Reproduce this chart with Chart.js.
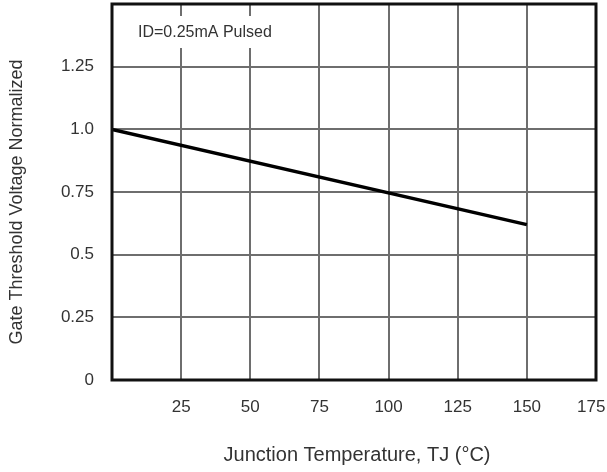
<!DOCTYPE html>
<html>
<head>
<meta charset="utf-8">
<script src="https://cdn.jsdelivr.net/npm/chart.js@4"></script>
<style>
html,body{margin:0;padding:0;background:#fff;}
#wrap{width:607px;height:472px;position:relative;}
</style>
</head>
<body>
<div id="wrap"><canvas id="c" width="607" height="472"></canvas></div>
<script>
// Data
const tempC = [0, 150];
const vthNorm = [1.0, 0.62];
const xTickValues = [0, 25, 50, 75, 100, 125, 150, 175];
const xTickLabels = ['', '25', '50', '75', '100', '125', '150', '175'];
const yTickValues = [0, 0.25, 0.5, 0.75, 1.0, 1.25, 1.5];
const yTickLabels = ['0', '0.25', '0.5', '0.75', '1.0', '1.25', ''];
const xTitle = 'Junction Temperature, TJ (°C)';
const yTitle = 'Gate Threshold Voltage Normalized';
const noteText = 'ID=0.25mA Pulsed';

const FONT = '"Liberation Sans", Arial, sans-serif';
const TXT = '#333333';

const points = tempC.map((t, i) => ({x: t, y: vthNorm[i]}));

const framePlugin = {
  id: 'frame',
  afterDatasetsDraw(chart) {
    const {ctx, chartArea: a} = chart;
    ctx.save();
    // note box
    ctx.font = '16px ' + FONT;
    const w = ctx.measureText(noteText).width;
    ctx.fillStyle = '#ffffff';
    ctx.fillRect(a.left + 18, a.top + 12, w + 16, 32);
    ctx.fillStyle = TXT;
    ctx.textBaseline = 'middle';
    ctx.textAlign = 'left';
    ctx.fillText(noteText, a.left + 26, a.top + 29);
    // frame
    ctx.strokeStyle = '#111111';
    ctx.lineWidth = 3;
    ctx.strokeRect(a.left, a.top, a.right - a.left, a.bottom - a.top);
    // axis titles
    ctx.fillStyle = TXT;
    ctx.textAlign = 'center';
    ctx.textBaseline = 'middle';
    ctx.font = '20px ' + FONT;
    ctx.fillText(xTitle, (a.left + a.right) / 2 + 3, 455);
    ctx.translate(17, 202);
    ctx.rotate(-Math.PI / 2);
    ctx.font = '18px ' + FONT;
    ctx.fillText(yTitle, 0, 0);
    ctx.restore();
  }
};

new Chart(document.getElementById('c'), {
  type: 'scatter',
  data: {
    datasets: [{
      data: points,
      showLine: true,
      borderColor: '#000000',
      borderWidth: 3.5,
      pointRadius: 0,
      fill: false
    }]
  },
  options: {
    responsive: false,
    animation: false,
    devicePixelRatio: 1,
    layout: {padding: {top: 4, right: 11, left: 0, bottom: 0}},
    plugins: {legend: {display: false}, tooltip: {enabled: false}},
    scales: {
      x: {
        type: 'linear',
        min: 0, max: 175,
        afterFit(s) { s.height = 92; s.paddingLeft = 0; s.paddingRight = 0; },
        afterBuildTicks(s) { s.ticks = xTickValues.map(v => ({value: v})); },
        ticks: {
          padding: 17,
          color: TXT,
          font: {family: FONT, size: 17},
          maxRotation: 0,
          autoSkip: false,
          callback: (v) => {
            const i = xTickValues.indexOf(v);
            const lbl = i >= 0 ? xTickLabels[i] : '';
            // last label sits slightly left so it stays inside the page
            return i === xTickValues.length - 1 ? lbl + '  ' : lbl;
          }
        },
        grid: {color: '#6e6e6e', lineWidth: 2, drawTicks: false},
        border: {display: false}
      },
      y: {
        type: 'linear',
        min: 0, max: 1.5,
        afterFit(s) { s.width = 112; s.paddingTop = 0; s.paddingBottom = 0; },
        afterBuildTicks(s) { s.ticks = yTickValues.map(v => ({value: v})); },
        ticks: {
          padding: 18,
          color: TXT,
          font: {family: FONT, size: 17},
          autoSkip: false,
          callback: (v) => {
            const i = yTickValues.findIndex(t => Math.abs(t - v) < 1e-9);
            return i >= 0 ? yTickLabels[i] : '';
          }
        },
        grid: {color: '#6e6e6e', lineWidth: 2, drawTicks: false},
        border: {display: false}
      }
    }
  },
  plugins: [framePlugin]
});
</script>
</body>
</html>
